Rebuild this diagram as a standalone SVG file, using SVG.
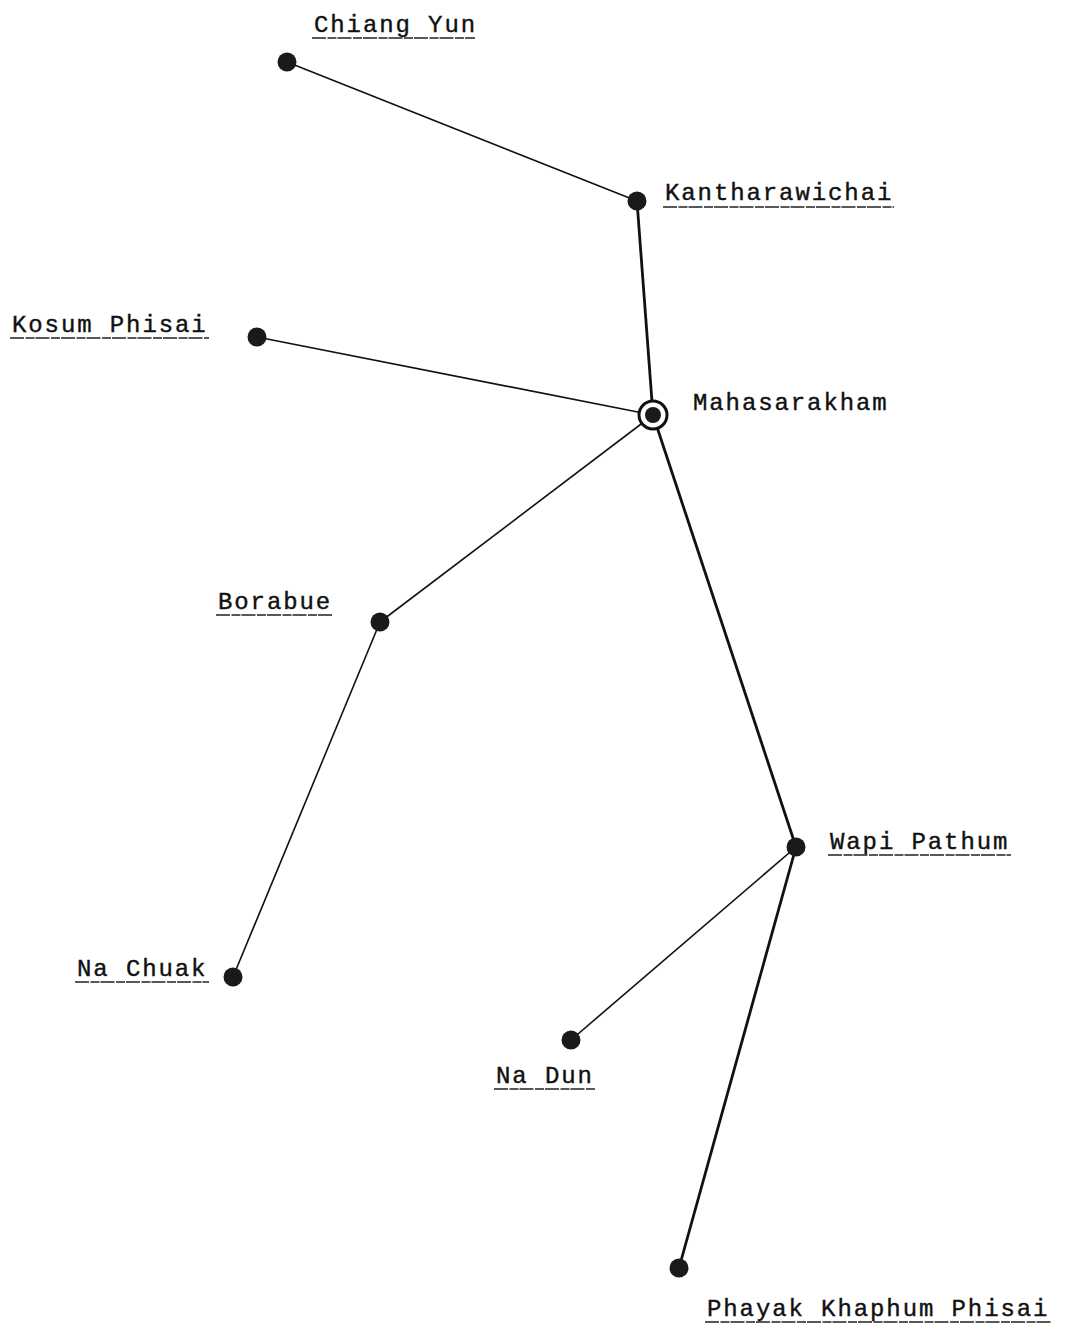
<svg xmlns="http://www.w3.org/2000/svg" width="1068" height="1330" viewBox="0 0 1068 1330">
<style>
.lbl{font-family:"Liberation Mono","DejaVu Sans Mono",monospace;font-size:24px;letter-spacing:1.9px;fill:#111;stroke:#111;stroke-width:0.4}
.ul{stroke:#222;stroke-width:1.6;stroke-dasharray:14 1.5 9 1}
.dot{fill:#1a1a1a}
.thin{stroke:#111;stroke-width:1.6;fill:none}
.thick{stroke:#111;stroke-width:2.8;fill:none}
</style>
<rect width="1068" height="1330" fill="#fff"/>
<g id="connectors">
<line class="thin" x1="287" y1="62" x2="637" y2="201"/>
<line class="thick" x1="637" y1="201" x2="653" y2="415"/>
<line class="thin" x1="257" y1="337" x2="653" y2="415"/>
<line class="thin" x1="653" y1="415" x2="380" y2="622"/>
<line class="thick" x1="653" y1="415" x2="796" y2="847"/>
<line class="thin" x1="380" y1="622" x2="233" y2="977"/>
<line class="thin" x1="796" y1="847" x2="571" y2="1040"/>
<line class="thick" x1="796" y1="847" x2="679" y2="1268"/>
</g>
<g id="chiang-yun">
<circle class="dot" cx="287" cy="62" r="9.5"/>
<text class="lbl" x="314" y="32">Chiang Yun</text>
<line class="ul" x1="312" y1="38" x2="475" y2="38"/>
</g>
<g id="kantharawichai">
<circle class="dot" cx="637" cy="201" r="9.5"/>
<text class="lbl" x="665" y="200">Kantharawichai</text>
<line class="ul" x1="663" y1="207" x2="894" y2="207"/>
</g>
<g id="kosum-phisai">
<circle class="dot" cx="257" cy="337" r="9.5"/>
<text class="lbl" x="12" y="332">Kosum Phisai</text>
<line class="ul" x1="10" y1="338" x2="209" y2="338"/>
</g>
<g id="mahasarakham">
<circle cx="653" cy="415" r="14" fill="#fff" stroke="#111" stroke-width="3"/>
<circle class="dot" cx="653" cy="415" r="8"/>
<text class="lbl" x="693" y="410">Mahasarakham</text>
</g>
<g id="borabue">
<circle class="dot" cx="380" cy="622" r="9.5"/>
<text class="lbl" x="218" y="609">Borabue</text>
<line class="ul" x1="216" y1="615" x2="333" y2="615"/>
</g>
<g id="wapi-pathum">
<circle class="dot" cx="796" cy="847" r="9.5"/>
<text class="lbl" x="830" y="849">Wapi Pathum</text>
<line class="ul" x1="828" y1="855" x2="1011" y2="855"/>
</g>
<g id="na-chuak">
<circle class="dot" cx="233" cy="977" r="9.5"/>
<text class="lbl" x="77" y="976">Na Chuak</text>
<line class="ul" x1="75" y1="982" x2="209" y2="982"/>
</g>
<g id="na-dun">
<circle class="dot" cx="571" cy="1040" r="9.5"/>
<text class="lbl" x="496" y="1083">Na Dun</text>
<line class="ul" x1="494" y1="1089" x2="596" y2="1089"/>
</g>
<g id="phayak-khaphum-phisai">
<circle class="dot" cx="679" cy="1268" r="9.5"/>
<text class="lbl" x="707" y="1316">Phayak Khaphum Phisai</text>
<line class="ul" x1="705" y1="1322" x2="1051" y2="1322"/>
</g>
</svg>
